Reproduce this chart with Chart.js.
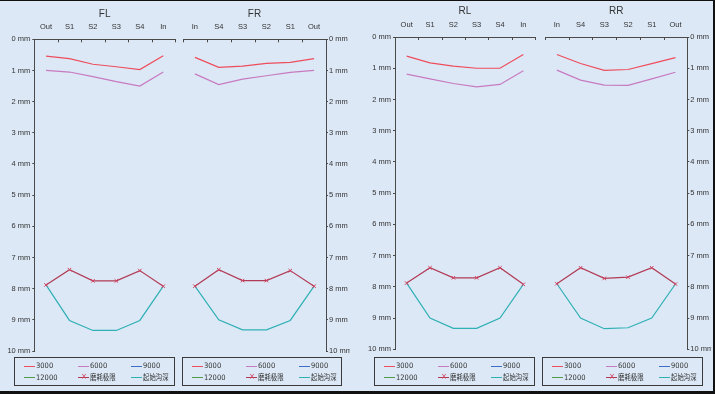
<!DOCTYPE html>
<html>
<head>
<meta charset="utf-8">
<script src="https://cdn.jsdelivr.net/npm/chart.js@4.4.1/dist/chart.umd.min.js"></script>
<style>
html, body { margin: 0; padding: 0; }
body { width: 715px; height: 394px; background: #dce8f6; position: relative; overflow: hidden; }
#frame { position: absolute; left: 0; top: 0; width: 713px; height: 390px; border-top: 1px solid #111; border-right: 2px solid #111; border-bottom: 3px solid #111; }
.box { position: absolute; }
.legend { position: absolute; border: 1px solid #3a3a3a; box-sizing: border-box; height: 29px;
  font-family: 'DejaVu Sans', sans-serif; font-stretch: condensed; font-size: 7.5px; color: #333; }
.item { position: absolute; display: flex; align-items: center; height: 10px; line-height: 10px; white-space: nowrap; }
.swatch { position: relative; width: 11px; height: 1px; margin-right: 1px; flex: none; }
.mark { position: absolute; left: 3px; top: -5px; font-size: 8px; line-height: 10px; }
.cjk { font-family: 'Noto Sans CJK SC', sans-serif; font-size: 8px; line-height: 10px; white-space: nowrap;
  display: inline-block; transform: scaleX(0.8); transform-origin: left center; position: relative; top: -0.5px; }
</style>
</head>
<body>
<div id="frame"></div>

<script>
// categories (tread positions)
const catsLeft = ['Out', 'S1', 'S2', 'S3', 'S4', 'In'];
const catsRight = ['In', 'S4', 'S3', 'S2', 'S1', 'Out'];
const yMax = 10;

// series names / colours
const seriesNames = ['3000', '6000', '9000', '12000', '磨耗极限', '起始沟深'];
const seriesColors = ['#ee4d5c', '#c77ac0', '#3d6fc6', '#4f9a45', '#b13a55', '#2fb0b4'];

// FL
const fl3000 = [0.54, 0.62, 0.80, 0.88, 0.97, 0.53];
const fl6000 = [1.00, 1.05, 1.20, 1.36, 1.50, 1.05];
const flLimit = [7.88, 7.39, 7.75, 7.75, 7.42, 7.92];
const flStart = [7.88, 9.02, 9.34, 9.34, 9.02, 7.92];
// FR
const fr3000 = [0.58, 0.90, 0.86, 0.77, 0.74, 0.62];
const fr6000 = [1.11, 1.45, 1.28, 1.17, 1.06, 1.00];
const frLimit = [7.92, 7.39, 7.74, 7.74, 7.42, 7.92];
const frStart = [7.92, 9.00, 9.32, 9.32, 9.02, 7.92];
// RL
const rl3000 = [0.61, 0.83, 0.93, 1.00, 1.00, 0.56];
const rl6000 = [1.19, 1.34, 1.49, 1.60, 1.52, 1.08];
const rlLimit = [7.88, 7.39, 7.71, 7.71, 7.39, 7.92];
const rlStart = [7.88, 9.00, 9.33, 9.33, 9.00, 7.92];
// RR
const rr3000 = [0.56, 0.85, 1.07, 1.04, 0.85, 0.66];
const rr6000 = [1.06, 1.38, 1.54, 1.55, 1.34, 1.13];
const rrLimit = [7.90, 7.39, 7.73, 7.69, 7.39, 7.91];
const rrStart = [7.90, 9.00, 9.34, 9.31, 9.00, 7.91];
// 9000 / 12000 have no readings
const noData = [null, null, null, null, null, null];

const axisColor = '#4a4a4a';
const textColor = '#333';
const tickFont = { family: "'Liberation Sans', Arial, sans-serif", size: 7.5 };
const titleFont = { family: "'Liberation Sans', Arial, sans-serif", size: 10 };

// small ticks pointing down from the top axis, between the categories
const innerTicks = {
    id: 'innerTicks',
    afterDraw(chart) {
        const x = chart.scales.x;
        const ctx = chart.ctx;
        ctx.save();
        ctx.strokeStyle = axisColor;
        ctx.lineWidth = 1;
        for (let i = 0; i <= x.ticks.length; i++) {
            const px = Math.round(x.getPixelForValue(i - 0.5)) + 0.5;
            ctx.beginPath();
            ctx.moveTo(px, x.bottom);
            ctx.lineTo(px, x.bottom + 3);
            ctx.stroke();
        }
        ctx.restore();
    }
};

function makeChart(title, cats, values, side, box, area, titleTop) {
    const holder = document.createElement('div');
    holder.className = 'box';
    holder.style.left = box.x + 'px';
    holder.style.top = box.y + 'px';
    const canvas = document.createElement('canvas');
    canvas.width = box.w;
    canvas.height = box.h;
    holder.appendChild(canvas);
    document.body.appendChild(holder);

    const yw = side === 'left' ? 34 : 24;
    const pad = {
        top: 0,
        bottom: box.y + box.h - area.b,
        left: side === 'left' ? area.l - box.x - yw : area.l - box.x,
        right: side === 'left' ? box.x + box.w - area.r : box.x + box.w - area.r - yw
    };

    const datasets = seriesNames.map((name, i) => ({
        label: name,
        data: values[i],
        borderColor: seriesColors[i],
        backgroundColor: seriesColors[i],
        borderWidth: 1.2,
        pointRadius: i === 4 ? 2.5 : 0,
        pointStyle: 'crossRot',
        pointBorderColor: '#d0405e',
        pointBorderWidth: 1,
        tension: 0
    }));

    return new Chart(canvas, {
        type: 'line',
        data: { labels: cats, datasets: datasets },
        options: {
            responsive: false,
            animation: false,
            devicePixelRatio: 1,
            layout: { padding: pad },
            plugins: { legend: { display: false }, tooltip: { enabled: false } },
            scales: {
                x: {
                    type: 'category',
                    position: 'top',
                    offset: true,
                    grid: { display: false, drawTicks: false },
                    border: { display: true, color: axisColor, width: 1 },
                    ticks: { color: textColor, padding: 8, font: tickFont, maxRotation: 0 },
                    title: { display: true, text: title, color: textColor,
                             font: titleFont, padding: { top: titleTop, bottom: 0 } },
                    afterFit: s => { s.height = area.t - box.y; }
                },
                y: {
                    position: side,
                    min: 0,
                    max: yMax,
                    reverse: true,
                    grid: { drawOnChartArea: false, tickLength: 2, color: axisColor },
                    border: { display: true, color: axisColor, width: 1 },
                    ticks: { stepSize: 1, padding: side === 'left' ? 2 : 1, color: textColor,
                             font: tickFont, callback: v => v + ' mm' },
                    afterFit: s => { s.width = yw; }
                }
            }
        },
        plugins: [innerTicks]
    });
}

function makeLegend(chart, x, y, w) {
    const div = document.createElement('div');
    div.className = 'legend';
    div.style.left = x + 'px';
    div.style.top = y + 'px';
    div.style.width = w + 'px';
    const cols = [9, 63, 116];
    const rows = [3, 14.5];
    chart.data.datasets.forEach((ds, i) => {
        const item = document.createElement('div');
        item.className = 'item';
        item.style.left = cols[i % 3] + 'px';
        item.style.top = rows[Math.floor(i / 3)] + 'px';
        const sw = document.createElement('span');
        sw.className = 'swatch';
        sw.style.background = ds.borderColor;
        if (ds.pointRadius > 0) {
            const m = document.createElement('span');
            m.className = 'mark';
            m.style.color = ds.pointBorderColor;
            m.textContent = '×';
            sw.appendChild(m);
        }
        const txt = document.createElement('span');
        txt.textContent = ds.label;
        if (/[^\x00-\x7f]/.test(ds.label)) txt.className = 'cjk';
        item.appendChild(sw);
        item.appendChild(txt);
        div.appendChild(item);
    });
    document.body.appendChild(div);
}

const chartFL = makeChart('FL', catsLeft, [fl3000, fl6000, noData, noData, flLimit, flStart], 'left',
    { x: 0, y: 0, w: 180, h: 362 }, { l: 34.3, t: 39.3, r: 176.7, b: 351 }, 8.7);
const chartFR = makeChart('FR', catsRight, [fr3000, fr6000, noData, noData, frLimit, frStart], 'right',
    { x: 178, y: 0, w: 178, h: 362 }, { l: 182.7, t: 39.3, r: 326, b: 351 }, 8.7);
const chartRL = makeChart('RL', catsLeft, [rl3000, rl6000, noData, noData, rlLimit, rlStart], 'left',
    { x: 360, y: 0, w: 180, h: 360 }, { l: 395, t: 37, r: 537.3, b: 349.3 }, 5.7);
const chartRR = makeChart('RR', catsRight, [rr3000, rr6000, noData, noData, rrLimit, rrStart], 'right',
    { x: 540, y: 0, w: 175, h: 360 }, { l: 543.3, t: 37, r: 687.3, b: 349.3 }, 5.7);

makeLegend(chartFL, 14, 357, 161);
makeLegend(chartFR, 182, 357, 160);
makeLegend(chartRL, 374, 357, 161);
makeLegend(chartRR, 542, 357, 161);
</script>
</body>
</html>
